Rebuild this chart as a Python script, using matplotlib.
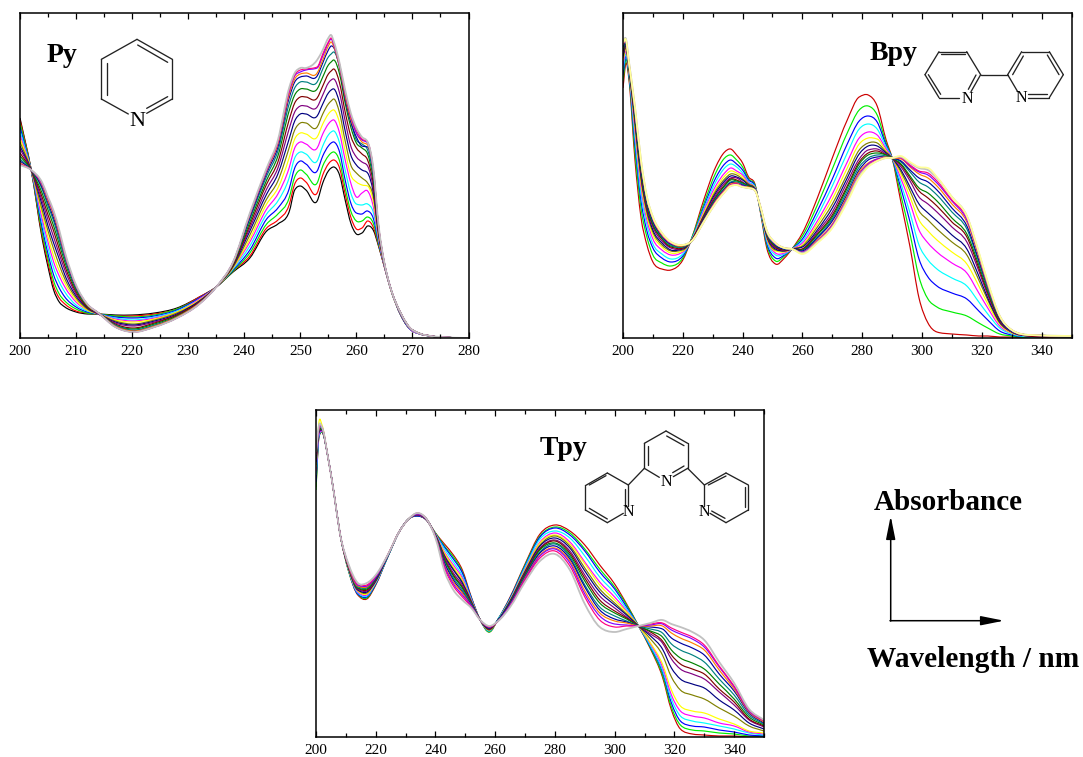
import matplotlib
matplotlib.use("Agg")
import matplotlib.pyplot as plt
from matplotlib.patches import PathPatch
from matplotlib.path import Path
from matplotlib.ticker import MultipleLocator

plt.rcParams['font.family'] = ['Liberation Serif', 'DejaVu Serif']

W, H = 1083, 757

ORIGIN = {'black': '#000000', 'red': '#ff0000', 'dred': '#cc0000', 'green': '#00ee00', 'blue': '#0000ff',
          'cyan': '#00ffff', 'magenta': '#ff00ff', 'yellow': '#ffff00', 'olive': '#808000', 'navy': '#000080',
          'purple': '#800080', 'wine': '#800000', 'dkgreen': '#008000', 'teal': '#008080', 'royal': '#0000a0',
          'orange': '#ff8000', 'violet': '#8000ff', 'pink': '#ff0080', 'gray': '#c0c0c0', 'ltyellow': '#ffff99'}

# ---------- Py ----------
py_nm = [200, 202, 204, 205, 206, 207, 208, 210, 212, 214, 217, 220, 224, 228, 232, 235, 238, 241, 244, 246, 248, 249,
         250, 251, 253, 254, 255, 255.5, 256, 257, 258, 259, 260, 261, 262, 263, 264, 265, 266, 268, 270, 275, 280]
py_colors = ['black', 'red', 'green', 'blue', 'cyan', 'magenta', 'yellow', 'olive', 'navy', 'purple', 'wine',
             'dkgreen', 'teal', 'royal', 'orange', 'violet', 'pink', 'gray']
py_abs = [
    [220,168,98,71,48,36,31,26,24,24,23,23,25,30,41,51,66,80,107,114,126,148,152,148,137,155,167,170,171,163,138,115,104,105,112,108,91,71,51,22,7,1,0],
    [218,168,101,75,52,40,34,27,25,24,22,22,24,29,41,51,67,82,110,118,133,154,160,156,145,163,174,177,178,170,144,121,109,110,117,111,92,71,51,22,7,1,0],
    [215,168,104,79,57,44,37,29,25,24,22,21,23,29,40,51,67,85,114,124,140,161,168,164,155,172,182,185,186,177,150,127,117,117,121,115,93,72,51,22,7,1,0],
    [211,168,109,84,63,50,41,31,26,24,21,20,22,28,40,51,68,88,119,130,149,170,177,174,167,182,192,195,196,186,158,135,125,124,127,120,95,72,51,22,7,1,0],
    [207,168,114,90,70,56,46,33,27,24,20,18,21,27,39,51,69,92,124,137,160,180,186,184,177,192,203,206,207,195,168,145,134,133,134,126,97,72,51,23,7,1,0],
    [203,168,118,96,76,62,51,36,28,24,19,17,20,26,39,51,70,96,129,144,170,190,196,194,190,204,214,217,218,205,178,155,141,145,147,132,98,72,51,23,7,1,0],
    [200,168,123,101,82,67,55,38,28,24,18,16,19,26,38,51,70,99,134,150,180,199,205,204,201,214,224,227,228,215,187,163,156,153,152,137,100,73,51,23,8,1,0],
    [196,168,127,107,89,73,59,40,29,24,17,14,18,25,37,51,71,103,139,157,190,208,215,215,211,224,234,237,239,225,197,173,165,160,155,142,101,73,52,23,8,1,0],
    [192,168,132,112,95,79,63,42,30,24,16,13,17,24,37,51,72,107,144,164,199,217,224,224,222,234,245,248,249,235,207,183,173,168,165,146,103,73,52,23,8,1,0],
    [189,168,136,118,101,84,68,44,31,24,15,12,16,23,36,51,73,110,149,170,209,226,232,232,231,243,255,258,259,245,217,192,181,176,172,150,104,74,52,23,8,1,0],
    [185,168,140,123,107,89,72,46,31,25,14,10,15,23,36,51,73,113,154,176,218,235,241,241,240,252,264,267,269,255,226,202,190,184,178,155,105,74,52,24,8,1,0],
    [182,168,144,128,112,94,76,48,32,25,13,9,14,22,35,51,74,116,158,182,227,243,249,249,249,261,273,276,278,264,235,211,195,190,184,159,107,74,52,24,8,1,0],
    [179,168,148,132,117,98,79,50,33,25,13,8,13,21,35,51,75,119,162,187,234,250,256,256,256,269,281,284,286,272,243,218,198,194,188,163,109,75,52,24,8,1,0],
    [177,168,150,135,120,102,82,51,33,25,12,7,12,21,35,51,75,121,165,191,240,256,261,262,262,275,288,292,290,270,239,216,201,192,191,166,109,75,52,24,8,1,0],
    [175,168,152,137,123,104,83,52,33,25,12,7,12,21,35,51,75,123,167,194,243,259,264,265,265,278,292,296,291,271,242,219,205,196,193,168,110,75,52,24,8,1,0],
    [174,168,153,139,125,106,84,52,34,25,11,6,11,20,34,51,76,124,168,196,246,262,266,268,270,282,295,299,293,273,245,222,205,198,195,169,110,75,52,24,8,1,0],
    [174,168,154,140,126,106,85,52,34,25,11,6,11,20,34,51,76,124,169,196,247,263,268,269,271,284,296,300,294,274,246,223,208,199,196,170,110,75,52,24,8,1,0],
    [173,168,155,141,127,108,86,53,34,25,11,6,11,20,34,51,76,125,170,198,250,265,270,270,278,288,300,303,296,275,248,225,210,201,196,171,111,75,52,24,8,1,0],
]

# ---------- Bpy ----------
bpy_nm = [200, 201, 202, 204, 206, 208, 210, 213, 216, 220, 223, 227, 231, 234, 236, 238, 240, 242, 244, 246, 248, 251,
          254, 256.5, 260, 265, 270, 275, 279, 282, 285, 288, 290, 293, 296, 299, 302, 305, 310, 315, 319, 322, 326, 330, 336, 350]
bpy_colors = ['dred', 'green', 'blue', 'cyan', 'magenta', 'yellow', 'olive', 'navy', 'purple', 'wine', 'dkgreen',
              'teal', 'royal', 'orange', 'violet', 'pink', 'gray', 'ltyellow']
bpy_abs = [
    [250,275,258,178,121,93,76,69,68,78,100,138,171,186,189,183,175,161,155,125,91,74,80,89,105,140,180,218,241,243,232,198,180,135,91,40,15,6,4,3,2,2,1,1,0,0],
    [257,279,261,186,130,101,83,75,72,80,100,134,165,180,183,178,171,159,154,126,94,77,82,89,102,133,169,205,228,232,223,195,180,142,104,61,39,31,26,22,15,10,4,2,0,0],
    [263,282,263,194,138,107,90,80,76,82,99,131,160,174,178,174,168,158,153,127,96,80,83,89,99,127,159,194,217,222,216,193,180,149,116,79,61,52,45,39,27,18,7,3,1,1],
    [268,284,265,200,144,113,94,84,79,84,99,129,156,170,174,171,165,156,152,127,98,83,84,89,97,122,152,185,209,214,209,191,180,154,125,93,78,69,60,52,36,24,10,4,1,1],
    [273,287,267,206,151,118,99,88,83,86,98,127,152,165,170,167,163,155,151,128,100,85,85,89,95,117,144,176,200,206,203,189,180,159,135,108,95,86,75,65,45,30,12,5,2,1],
    [277,289,268,210,155,122,103,91,85,87,98,125,149,162,167,165,161,154,151,129,101,87,86,89,93,114,139,170,194,200,199,187,180,163,141,118,107,98,86,74,52,34,14,5,2,1],
    [280,290,269,214,159,125,106,93,87,88,98,123,147,159,164,163,159,154,150,129,102,88,87,89,92,111,134,164,188,195,195,186,180,166,147,127,118,109,96,83,58,38,15,6,2,1],
    [282,292,270,216,162,128,108,95,88,89,98,122,145,157,162,161,158,153,150,129,103,89,87,89,91,108,130,160,184,192,192,185,180,168,151,134,125,117,103,89,62,40,16,6,2,1],
    [285,293,271,219,165,130,111,97,90,90,98,121,143,155,160,160,156,152,150,130,104,90,88,89,89,106,126,156,179,188,189,184,180,171,157,141,134,126,111,96,67,43,17,6,2,2],
    [287,294,272,221,168,132,113,99,91,90,98,120,141,153,159,158,155,152,149,130,105,91,88,89,89,104,123,152,176,185,187,183,180,173,160,147,140,132,116,101,70,45,18,7,2,2],
    [288,295,272,223,169,134,114,100,92,91,97,119,140,152,158,157,155,152,149,130,105,92,89,89,88,103,121,150,174,183,185,183,180,174,162,150,145,137,120,104,73,47,19,7,3,2],
    [290,295,273,225,172,136,116,101,93,91,97,118,139,150,156,156,154,151,149,130,106,93,89,89,87,101,119,147,171,180,183,182,180,176,166,156,151,143,126,109,76,49,20,7,3,2],
    [291,296,274,227,173,137,117,102,94,92,97,118,138,149,155,155,153,151,149,131,107,93,89,89,87,100,117,144,168,178,181,181,180,177,168,160,156,148,130,112,78,51,20,7,3,2],
    [293,297,274,228,175,139,119,103,95,92,97,117,137,148,154,155,152,151,148,131,107,94,90,89,86,98,114,142,166,175,179,181,180,179,171,164,160,152,134,116,81,52,21,8,3,2],
    [294,297,275,229,176,140,120,104,95,93,97,117,136,147,153,154,152,150,148,131,107,94,90,89,86,97,113,140,164,174,179,180,180,180,172,166,163,155,137,118,83,53,21,8,3,2],
    [294,298,275,230,177,140,120,104,95,93,97,116,136,147,153,154,151,150,148,131,108,95,90,89,85,97,112,139,163,173,178,180,180,180,173,167,165,157,138,120,84,54,22,8,3,2],
    [296,299,276,231,178,141,121,105,96,93,97,116,135,146,152,153,151,150,148,131,108,95,90,89,85,96,111,138,162,172,177,180,180,181,175,170,168,160,141,122,85,55,22,8,3,2],
    [295,298,275,231,178,141,121,105,96,93,97,116,135,146,152,153,151,150,148,131,108,95,90,89,84,95,110,136,160,171,177,180,180,182,176,171,170,161,141,122,86,56,22,8,3,2],
]

# ---------- Tpy ----------
tpy_nm = [200, 201, 202, 204, 206, 208, 211, 214, 217, 220, 224, 228, 231, 234, 237, 240, 243, 246, 249, 252, 255, 258,
          261, 265, 270, 275, 280, 285, 290, 295, 300, 304, 308, 312, 316, 319, 322, 326, 330, 335, 340, 345, 350]
tpy_colors = ['dred', 'green', 'blue', 'cyan', 'magenta', 'yellow', 'olive', 'navy', 'purple', 'wine', 'dkgreen',
              'teal', 'royal', 'orange', 'violet', 'pink', 'gray']
tpy_abs = [
    [250,300,305,280,244,204,165,142,138,152,180,206,218,221,217,204,193,182,167,140,117,105,118,140,173,203,212,206,192,172,153,133,111,88,60,27,8,3,2,1,1,0,0],
    [247,301,305,280,244,204,165,143,139,153,180,206,218,221,217,204,191,180,165,139,117,105,118,139,172,201,210,204,188,168,150,132,111,89,62,30,12,7,6,4,3,1,1],
    [255,301,306,280,244,204,166,143,140,153,180,206,218,221,217,203,190,178,164,139,117,106,118,139,171,200,209,202,186,165,148,130,111,90,65,34,16,11,10,7,5,2,1],
    [262,302,306,280,244,204,166,144,141,154,180,206,218,222,217,203,188,175,161,138,117,106,118,138,170,198,206,199,181,160,144,128,111,91,67,38,21,16,14,11,8,4,2],
    [266,303,306,280,244,204,167,145,142,155,181,206,218,222,217,203,185,172,159,137,117,107,117,137,168,195,204,195,175,155,140,126,111,93,70,42,26,21,19,14,11,5,3],
    [270,315,312,280,244,204,167,146,143,155,181,206,218,222,217,202,184,170,157,136,117,107,117,137,167,194,202,193,173,152,137,125,111,94,73,47,31,26,24,18,13,6,4],
    [272,305,307,280,244,204,168,147,144,156,181,206,218,222,217,202,182,168,155,136,117,107,117,136,166,192,201,191,169,148,134,123,111,98,82,60,47,42,38,29,21,11,6],
    [275,305,307,280,244,204,168,147,145,156,181,206,218,222,217,202,181,167,154,135,117,108,117,136,165,191,199,189,166,145,132,122,111,101,88,69,58,53,49,37,27,14,8],
    [277,306,307,280,244,204,168,148,146,157,181,206,218,222,217,201,180,164,152,134,117,108,117,135,164,189,197,186,162,141,129,120,111,103,94,78,68,63,58,45,32,17,10],
    [278,307,308,280,244,204,169,149,147,158,181,206,218,223,218,201,178,162,150,134,117,108,117,134,163,188,196,184,159,137,126,119,111,105,96,82,73,68,63,48,35,18,11],
    [279,307,308,280,244,204,169,149,148,158,181,206,218,223,218,201,177,161,149,133,117,109,117,134,162,187,194,182,156,134,124,118,111,106,100,87,79,74,68,53,38,20,12],
    [280,308,308,280,244,204,170,150,149,159,181,206,218,223,218,201,175,159,147,133,117,109,117,133,161,185,193,180,152,130,121,116,111,108,104,93,87,82,75,58,42,22,13],
    [281,309,309,280,244,204,170,151,150,159,181,206,218,223,218,200,174,157,145,132,117,109,117,133,160,184,191,178,150,127,118,115,111,110,108,99,94,89,82,63,46,24,14],
    [282,309,309,280,244,204,170,151,150,160,182,206,218,223,218,200,172,155,144,131,117,110,116,132,159,182,189,176,146,124,116,114,111,111,111,104,99,94,87,67,48,25,15],
    [283,310,309,280,244,204,171,152,151,160,182,206,218,223,218,200,171,153,142,131,117,110,116,132,158,181,188,174,143,121,113,112,111,112,113,107,103,98,90,70,50,26,16],
    [284,310,310,280,244,204,171,153,152,161,182,206,218,224,218,200,169,151,140,130,117,110,116,131,157,179,186,171,140,117,110,111,111,113,114,109,105,100,92,71,51,27,16],
    [285,312,310,280,244,204,172,154,154,162,182,206,218,224,218,199,166,147,137,129,117,111,116,130,155,176,183,167,133,110,105,108,111,114,117,113,110,105,97,75,54,28,17],
]

tick_labels_py = ['200', '210', '220', '230', '240', '250', '260', '270', '280']
tick_labels_bt = ['200', '220', '240', '260', '280', '300', '320', '340']

fig = plt.figure(figsize=(W / 100, H / 100), dpi=100, facecolor='white')


def curve_path(x, y):
    """A path through the read points, drawn as cubic Bezier segments (Origin-style spline connection)."""
    n = len(x)
    d = [(y[i + 1] - y[i]) / (x[i + 1] - x[i]) for i in range(n - 1)]
    m = [d[0]]
    for i in range(1, n - 1):
        h0, h1 = x[i] - x[i - 1], x[i + 1] - x[i]
        t = (d[i - 1] * h1 + d[i] * h0) / (h0 + h1)
        if d[i - 1] * d[i] > 0:
            lim = 2.5 * min(abs(d[i - 1]), abs(d[i]))
            t = max(-lim, min(lim, t))
        m.append(t)
    m.append(d[-1])
    verts, codes = [(x[0], y[0])], [Path.MOVETO]
    for i in range(n - 1):
        h = x[i + 1] - x[i]
        verts += [(x[i] + h / 3, y[i] + m[i] * h / 3), (x[i + 1] - h / 3, y[i + 1] - m[i + 1] * h / 3),
                  (x[i + 1], y[i + 1])]
        codes += [Path.CURVE4] * 3
    return Path(verts, codes)


def panel(box, nm, curves, colors, xlim, major, minor, labels, ymax):
    left, top, right, bottom = box
    ax = fig.add_axes([left / W, 1 - bottom / H, (right - left) / W, (bottom - top) / H])
    for vals, c in zip(curves, colors):
        light = c in ('gray', 'ltyellow')
        ax.add_patch(PathPatch(curve_path(nm, vals), fill=False, edgecolor=ORIGIN[c],
                               lw=1.3 if light else 0.85, joinstyle='round'))
    ax.set_xlim(*xlim)
    ax.set_ylim(0, ymax)
    ax.xaxis.set_major_locator(MultipleLocator(major))
    ax.xaxis.set_minor_locator(MultipleLocator(minor))
    ax.set_xticks([xlim[0] + i * major for i in range(len(labels))], labels)
    ax.set_yticks([])
    ax.tick_params(axis='x', which='major', direction='in', top=True, length=4.6, width=0.9, labelsize=11, pad=5)
    ax.tick_params(axis='x', which='minor', direction='in', top=True, length=2.8, width=0.9)
    for s in ax.spines.values():
        s.set_linewidth(1.1)
    return ax


panel((20, 13, 468.5, 338), py_nm, py_abs, py_colors, (200, 280), 10, 5, tick_labels_py, 325)
panel((623, 13, 1071.5, 338), bpy_nm, bpy_abs, bpy_colors, (200, 350), 20, 10, tick_labels_bt, 325)
panel((316, 410, 764, 737), tpy_nm, tpy_abs, tpy_colors, (200, 350), 20, 10, tick_labels_bt, 327)

# overlay in pixel coordinates for the annotations (structures, labels, arrows)
ov = fig.add_axes([0, 0, 1, 1], zorder=5)
ov.set_xlim(0, W)
ov.set_ylim(H, 0)
ov.axis('off')
ov.patch.set_alpha(0)


def bonds(origin, scale, segs, color='#222222', lw=0.95):
    x0, y0 = origin
    for (a, b, c, d) in segs:
        ov.plot([x0 + a / scale, x0 + c / scale], [y0 + b / scale, y0 + d / scale], color=color, lw=lw,
                solid_capstyle='round')


# Pyridine
bonds((0, 0), 3, [(411, 118, 517, 178), (413, 135, 503, 187), (517, 178, 517, 297), (517, 297, 440, 340),
                  (503, 290, 440, 325), (385, 342, 304, 297), (304, 297, 304, 178), (320, 190, 320, 285),
                  (304, 178, 411, 118)])
ov.text(137, 122, 'N', fontsize=16, ha='center', va='center')

# Bipyridine
bonds((840, 0), 3, [(297, 155, 380, 155), (303, 163, 375, 163), (380, 155, 422, 224), (422, 224, 393, 275),
                    (408, 225, 385, 268), (358, 293, 297, 293), (297, 293, 255, 224), (302, 283, 265, 224),
                    (255, 224, 297, 155), (422, 224, 503, 224), (503, 224, 545, 155), (518, 224, 550, 168),
                    (545, 155, 628, 155), (628, 155, 670, 224), (622, 165, 657, 224), (670, 224, 628, 293),
                    (628, 293, 565, 293), (622, 283, 565, 283), (533, 275, 503, 224)])
ov.text(840 + 382 / 3, 99, 'N', fontsize=11.5, ha='center', va='center')
ov.text(840 + 545 / 3, 98.5, 'N', fontsize=11.5, ha='center', va='center')

# Terpyridine
bonds((530, 400), 3, [(343, 130, 408, 93), (408, 93, 473, 130), (410, 108, 462, 137), (473, 130, 473, 205),
                      (473, 205, 430, 230), (462, 198, 428, 218), (388, 232, 343, 205), (343, 205, 343, 130),
                      (355, 195, 355, 138), (343, 205, 295, 255), (473, 205, 523, 255),
                      (295, 255, 232, 219), (232, 219, 166, 257), (178, 255, 228, 227), (166, 257, 166, 330),
                      (166, 330, 232, 368), (178, 325, 232, 357), (232, 368, 280, 340), (295, 255, 295, 318),
                      (285, 268, 285, 318), (523, 255, 588, 219), (535, 255, 588, 228), (588, 219, 655, 255),
                      (655, 255, 655, 330), (645, 262, 645, 322), (655, 330, 588, 368), (588, 368, 540, 340),
                      (585, 355, 545, 333), (523, 318, 523, 255)])
ov.text(530 + 408 / 3, 400 + 245 / 3, 'N', fontsize=11.5, ha='center', va='center')
ov.text(530 + 295 / 3, 400 + 335 / 3, 'N', fontsize=11.5, ha='center', va='center')
ov.text(530 + 523 / 3, 400 + 335 / 3, 'N', fontsize=11.5, ha='center', va='center')

for txt, x, y, size in [('Py', 46.5, 62, 20), ('Bpy', 869.5, 60, 20), ('Tpy', 540, 455, 20),
                        ('Absorbance', 874, 510, 21), ('Wavelength / nm', 867, 667, 21.2)]:
    ov.text(x, y, txt, fontsize=size, fontweight='bold', ha='left', va='baseline')

for xy, xytext in [((890.7, 516), (890.7, 621)), ((1004, 620.7), (890, 620.7))]:
    ov.annotate('', xy=xy, xytext=xytext,
                arrowprops=dict(arrowstyle='-|>,head_length=1.0,head_width=0.2', color='black', lw=1.1,
                                mutation_scale=14, shrinkA=0, shrinkB=0))

fig.savefig('out.png', dpi=100)
